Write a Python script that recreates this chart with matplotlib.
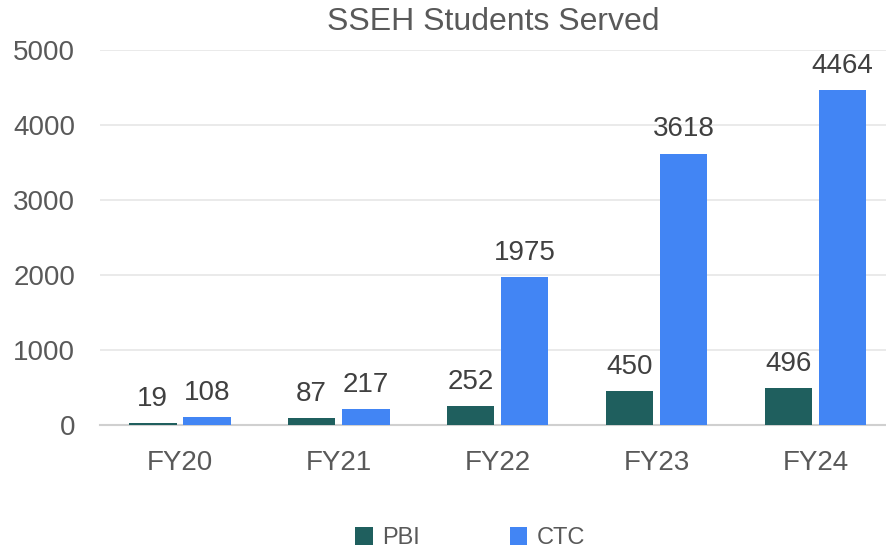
import numpy as np
import matplotlib.pyplot as plt

years = ["FY20", "FY21", "FY22", "FY23", "FY24"]
pbi = [19, 87, 252, 450, 496]
ctc = [108, 217, 1975, 3618, 4464]

pbi_color = "#1f5f5e"
ctc_color = "#4285f4"
text_color = "#595959"

plt.rcParams['font.family'] = ['Liberation Sans', 'DejaVu Sans']

fig = plt.figure(figsize=(8.87, 5.54), dpi=100)
ax = fig.add_axes([0.113, 0.233, 0.887, 0.677])

x = np.arange(len(years))
w = 0.30
b1 = ax.bar(x - w / 2 - 0.02, pbi, w, color=pbi_color, label="PBI", zorder=3)
b2 = ax.bar(x + w / 2 + 0.02, ctc, w, color=ctc_color, label="CTC", zorder=3)

for bars in (b1, b2):
    for r in bars:
        ax.annotate(str(int(r.get_height())),
                    (r.get_x() + r.get_width() / 2, r.get_height()),
                    xytext=(0, 8), textcoords="offset points",
                    ha="center", va="bottom", fontsize=20, color="#404040")

ax.set_ylim(0, 5000)
ax.set_xlim(-0.5, 4.45)
ax.set_yticks(range(0, 5001, 1000))
ax.set_xticks(x)
ax.set_xticklabels(years)
ax.yaxis.grid(True, color="#e6e6e6", linewidth=1.2, zorder=0)
ax.tick_params(axis="both", length=0, labelsize=20, colors=text_color)
ax.tick_params(axis="x", pad=18)
ax.tick_params(axis="y", pad=18)
for s in ["top", "right", "left"]:
    ax.spines[s].set_visible(False)
ax.spines["bottom"].set_color("#d0d0d0")
ax.spines["bottom"].set_linewidth(1.5)

ax.set_title("SSEH Students Served", fontsize=23, color=text_color, pad=14)

fig.legend(handles=[b1, b2], loc="lower center", bbox_to_anchor=(0.53, -0.03),
           ncol=2, frameon=False, fontsize=17, labelcolor=text_color,
           handlelength=0.75, handleheight=0.75, columnspacing=3.8, handletextpad=0.4)

fig.savefig("out.png", dpi=100)
